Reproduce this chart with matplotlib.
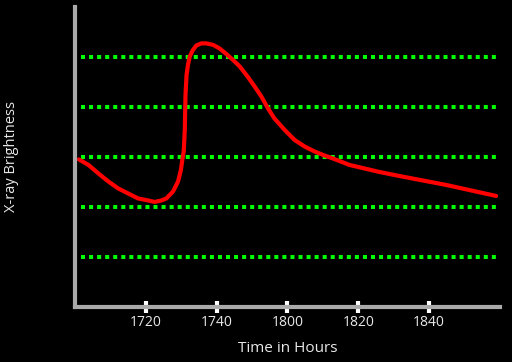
import matplotlib
matplotlib.use("Agg")
import matplotlib.pyplot as plt

# minutes after 17:00 and brightness
time_min = [1.1, 3.8, 6.6, 9.4, 12.2, 15.0, 17.8, 20.6, 22.5, 24.4, 25.8,
            27.7, 29.1, 29.9, 30.3, 30.7, 31.0, 31.2, 31.5, 31.9, 32.4,
            33.3, 34.3, 35.7, 37.1, 39.0, 40.8, 42.7, 44.6, 46.5, 48.7,
            50.7, 52.6, 54.5, 56.3, 59.2, 62.0, 64.8, 67.6, 70.4, 72.8,
            77.5, 85.9, 91.5, 104.8, 118.9]
brightness = [2.95, 2.84, 2.67, 2.51, 2.37, 2.27, 2.17, 2.13, 2.10, 2.13, 2.17,
              2.31, 2.51, 2.74, 2.94, 3.11, 3.54, 4.24, 4.64, 4.84, 5.01,
              5.14, 5.23, 5.27, 5.27, 5.24, 5.17, 5.06, 4.94, 4.81, 4.61,
              4.41, 4.21, 3.97, 3.77, 3.54, 3.34, 3.21, 3.11, 3.03, 2.97,
              2.84, 2.7, 2.62, 2.44, 2.22]

tick_pos = [20, 40, 60, 80, 100]
tick_labels = ["1720", "1740", "1800", "1820", "1840"]
grid_levels = [1, 2, 3, 4, 5]

plt.rcParams['font.family'] = ['Open Sans', 'DejaVu Sans']

fig = plt.figure(figsize=(5.12, 3.62), dpi=100, facecolor="black")
ax = fig.add_axes([0.1465, 0.152, 0.83, 0.829])
ax.set_facecolor("black")

ax.hlines(grid_levels, 1.7, 119.3, colors="#00ff00", linewidth=2.9,
          linestyles=(0, (1, 1)), zorder=1)
ax.plot(time_min, brightness, color="red", linewidth=3, solid_capstyle="round",
        solid_joinstyle="round", zorder=2)

ax.set_xlim(0, 120)
ax.set_ylim(0, 6)

for s in ["top", "right"]:
    ax.spines[s].set_visible(False)
for s in ["left", "bottom"]:
    ax.spines[s].set_color("#aaaaaa")
    ax.spines[s].set_linewidth(3)

ax.set_xticks(tick_pos)
ax.set_xticklabels(tick_labels)
ax.set_yticks([])
ax.tick_params(axis="x", direction="inout", length=9, width=3, color="white",
               labelcolor="#e8e8e8", labelsize=10, pad=1)

ax.set_xlabel("Time in Hours", color="#e8e8e8", fontsize=11, labelpad=8)
ax.set_ylabel("X-ray Brightness", color="#e8e8e8", fontsize=10.5, labelpad=40)

fig.savefig("out.png", dpi=100, facecolor="black")
